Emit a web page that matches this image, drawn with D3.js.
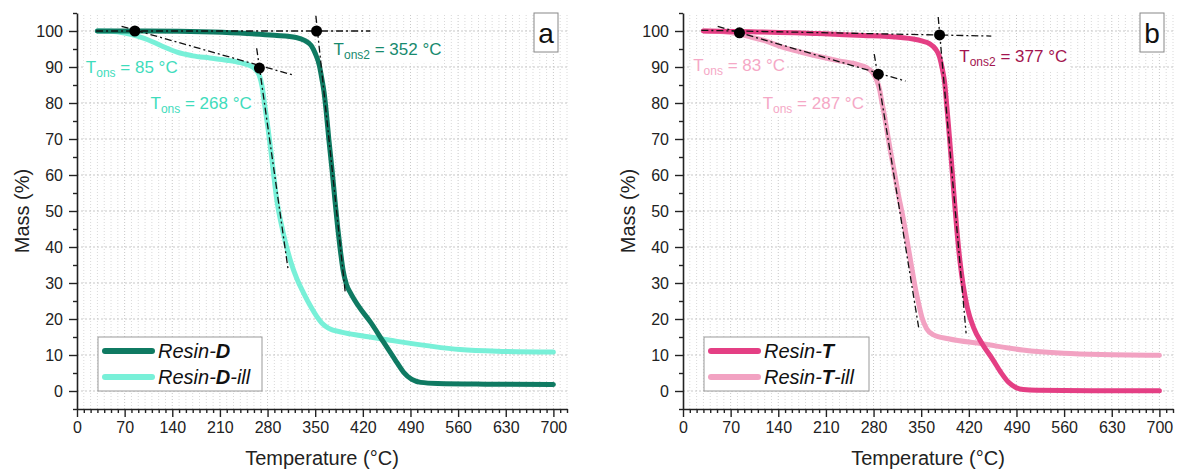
<!DOCTYPE html>
<html><head><meta charset="utf-8">
<script src="https://cdn.jsdelivr.net/npm/d3@7"></script>
<style>
body{margin:0;background:#fff}
svg{display:block}
text{font-family:"Liberation Sans",Arial,Helvetica,sans-serif}
</style>
</head><body>
<svg id="chart" width="1177" height="470"></svg>
<script>
// ---------------- DATA ----------------
const tempTicks = [0, 70, 140, 210, 280, 350, 420, 490, 560, 630, 700];
const massTicks = [0, 10, 20, 30, 40, 50, 60, 70, 80, 90, 100];
const tempMinor = d3.range(10, 721, 10).filter(v => v % 70 !== 0);
const massMinor = [-5, 5, 15, 25, 35, 45, 55, 65, 75, 85, 95, 105];

// [temperature °C, mass %]
const resinD = [[30,100],[100,100],[200,99.7],[250,99.3],[290,98.8],[322,98.2],[335,97.3],[344,96],[350,93.8],[356,90.5],[360,86.5],[363,83],[366,78],[370,70],[375,61],[379,53],[383,45.5],[387,39],[391,33.5],[396,29.5],[402,27.2],[415,23.2],[431,19.2],[450,13.7],[467,8.8],[480,5.2],[492,3.2],[505,2.4],[530,2.1],[600,1.9],[700,1.8]];
const resinDill = [[30,100],[50,99.9],[70,99.4],[90,98.5],[110,97.1],[130,95.4],[147,94.1],[170,93.1],[195,92.5],[220,91.9],[240,91.2],[255,90.3],[263,89.2],[268,87.6],[272,84.5],[275,80.5],[278,76.5],[281,72.5],[285,66.5],[289,60],[294,52.5],[300,46.5],[306,41.5],[314,36],[323,31.2],[333,27.2],[343,23.6],[352,20.8],[360,18.8],[370,17.4],[390,16.3],[416,15.4],[460,14.1],[514,12.6],[563,11.5],[630,11],[700,10.8]];
const resinT = [[30,100],[100,99.8],[200,99.3],[256,98.8],[320,98.2],[338,97.8],[352,97.2],[362,96.5],[371,95],[377,92.8],[381,89.5],[384.5,85.6],[387,80.5],[390,74],[393,67],[396,60],[399,52.5],[402.5,44.5],[407,36],[412,29],[418,23],[427,17.6],[440,13],[455,8.8],[467,5.2],[478,2.5],[489,1.0],[500,0.4],[520,0.2],[600,0.1],[700,0.1]];
const resinTill = [[30,100],[60,99.8],[81,99.2],[100,98.3],[120,97.3],[145,95.6],[174,94.1],[200,92.9],[229,91.7],[256,90.7],[270,89.8],[278,88.6],[284,86.6],[289,83.6],[292,80.5],[296,76.5],[300,72],[304,67.5],[309,62.4],[316,55],[324,47.5],[330,41],[336,34.4],[341,29],[346,24.5],[351,20.5],[358,17.3],[368,15.6],[390,14.5],[440,13.1],[499,11.4],[559,10.5],[630,10.1],[700,9.9]];

// onset points [temperature, mass]
const onsetA = [[85,100],[268,89.7],[352,100]];
const onsetB = [[83,99.5],[287,88],[377,98.9]];
// tangent construction lines [[t1,m1],[t2,m2]]
const tangentsA = [[[28,100],[431,100]], [[65.5,101.3],[317,87.8]], [[264,95.2],[310,34]], [[351,104.2],[394,27.6]]];
const tangentsB = [[[27,100.2],[453,98.6]], [[51,101.3],[327,86.1]], [[281,93.6],[347,16.8]], [[375,103.9],[416,16]]];
// onset labels: value, subscript, anchor [temperature, mass]
const labelValuesA = ["85", "268", "352"];
const labelSubsA = ["ons", "ons", "ons2"];
const labelAnchorsA = [[13,88.3],[108,78.4],[377,93.2]];
const labelValuesB = ["83", "287", "377"];
const labelSubsB = ["ons", "ons", "ons2"];
const labelAnchorsB = [[15,88.8],[117,78.4],[406,91.4]];

// ---------------- DRAW ----------------
const svg = d3.select("#chart");

function drawPanel(p) {
  const g = svg.append("g");
  const x = d3.scaleLinear().domain([0, 720]).range([p.left, p.left + 490]);
  const y = d3.scaleLinear().domain([-5, 105]).range([409, 13]);

  // grid
  const grid = g.append("g");
  grid.selectAll(".vmin").data(tempMinor).join("line")
    .attr("x1", d => x(d)).attr("x2", d => x(d)).attr("y1", y(-5)).attr("y2", y(105))
    .attr("stroke", "#d9d9d9").attr("stroke-width", 1).attr("stroke-dasharray", "1,2");
  grid.selectAll(".vmaj").data(tempTicks.filter(d => d > 0)).join("line")
    .attr("x1", d => x(d)).attr("x2", d => x(d)).attr("y1", y(-5)).attr("y2", y(105))
    .attr("stroke", "#c8c8c8").attr("stroke-width", 1).attr("stroke-dasharray", "1,2");
  grid.selectAll(".hmaj").data(massTicks).join("line")
    .attr("x1", x(0)).attr("x2", x(720)).attr("y1", d => y(d)).attr("y2", d => y(d))
    .attr("stroke", "#c8c8c8").attr("stroke-width", 1).attr("stroke-dasharray", "2,2");

  const line = d3.line().x(d => x(d[0])).y(d => y(d[1])).curve(d3.curveMonotoneX);
  // curves: ill first (drawn below)
  g.append("path").datum(p.ill).attr("d", line).attr("fill", "none")
    .attr("stroke", p.illColor).attr("stroke-width", 5).attr("stroke-linejoin", "round").attr("stroke-linecap", "round");
  g.append("path").datum(p.main).attr("d", line).attr("fill", "none")
    .attr("stroke", p.mainColor).attr("stroke-width", 5).attr("stroke-linejoin", "round").attr("stroke-linecap", "round");

  // tangents
  g.selectAll(".tan").data(p.tangents).join("line")
    .attr("x1", d => x(d[0][0])).attr("y1", d => y(d[0][1]))
    .attr("x2", d => x(d[1][0])).attr("y2", d => y(d[1][1]))
    .attr("stroke", "#111").attr("stroke-width", 1.3).attr("stroke-dasharray", "7,3,2,3");

  // onset dots
  g.selectAll(".dot").data(p.onset).join("circle")
    .attr("cx", d => x(d[0])).attr("cy", d => y(d[1])).attr("r", 5.5).attr("fill", "#000");

  // labels
  p.labelValues.forEach((v, i) => {
    const a = p.labelAnchors[i];
    const lg = g.append("g");
    const bg = lg.append("rect").attr("fill", "#fff");
    const t = lg.append("text").attr("x", x(a[0])).attr("y", y(a[1]))
      .attr("font-size", 17).attr("fill", p.labelColors[i]);
    t.append("tspan").text("T");
    t.append("tspan").attr("font-size", 12).attr("dy", 4).text(p.labelSubs[i]);
    t.append("tspan").attr("dy", -4).text(" = " + v + " °C");
    const bb = t.node().getBBox();
    bg.attr("x", bb.x - 2).attr("y", bb.y - 1).attr("width", bb.width + 4).attr("height", bb.height + 2);
  });

  // axes
  const ax = g.append("g").attr("transform", `translate(0,409)`)
    .call(d3.axisBottom(x).tickValues(tempTicks).tickSize(8).tickSizeOuter(0).tickPadding(5));
  g.append("g").attr("transform", `translate(0,409)`)
    .call(d3.axisBottom(x).tickValues(tempMinor).tickSize(4).tickFormat("").tickSizeOuter(0))
    .select(".domain").remove();
  const ay = g.append("g").attr("transform", `translate(${p.left},0)`)
    .call(d3.axisLeft(y).tickValues(massTicks).tickSize(8).tickSizeOuter(0).tickPadding(6));
  g.append("g").attr("transform", `translate(${p.left},0)`)
    .call(d3.axisLeft(y).tickValues(massMinor).tickSize(4).tickFormat("").tickSizeOuter(0))
    .select(".domain").remove();
  g.selectAll(".domain").attr("stroke", "#222").attr("stroke-width", 1.6);
  g.selectAll(".tick line").attr("stroke", "#222").attr("stroke-width", 1.4);
  g.selectAll(".tick text").attr("font-size", 16).attr("fill", "#222")
    .style("font-family", '"Liberation Sans", Arial, sans-serif');

  // axis titles
  g.append("text").attr("x", p.left + 245).attr("y", 465).attr("text-anchor", "middle")
    .attr("font-size", 20).attr("fill", "#222").text("Temperature (°C)");
  g.append("text").attr("transform", `translate(${p.left - 48},211) rotate(-90)`)
    .attr("text-anchor", "middle").attr("font-size", 20).attr("fill", "#222").text("Mass (%)");

  // legend
  const lx = p.left + 21, ly = 337;
  const lgd = g.append("g");
  lgd.append("rect").attr("x", lx).attr("y", ly).attr("width", p.legendW).attr("height", 54)
    .attr("fill", "#fff").attr("stroke", "#999").attr("stroke-width", 1);
  [[p.mainColor, ""], [p.illColor, "-ill"]].forEach((it, i) => {
    const cy = ly + 14 + i * 26;
    lgd.append("line").attr("x1", lx + 7).attr("x2", lx + 54).attr("y1", cy).attr("y2", cy)
      .attr("stroke", it[0]).attr("stroke-width", 6).attr("stroke-linecap", "round");
    const t = lgd.append("text").attr("x", lx + 60).attr("y", cy + 7).attr("font-size", 20)
      .attr("font-style", "italic").attr("fill", "#111");
    t.append("tspan").text("Resin-");
    t.append("tspan").attr("font-weight", "bold").text(p.letter);
    if (it[1]) t.append("tspan").text(it[1]);
  });

  // panel letter
  const bx = p.left + 457;
  g.append("rect").attr("x", bx).attr("y", 13).attr("width", 24).attr("height", 39)
    .attr("fill", "#fff").attr("stroke", "#888").attr("stroke-width", 1);
  g.append("text").attr("x", bx + 12).attr("y", 43).attr("text-anchor", "middle")
    .attr("font-size", 28).attr("fill", "#111").text(p.panel);
}

drawPanel({
  left: 77, panel: "a", letter: "D", legendW: 164,
  main: resinD, ill: resinDill,
  mainColor: "#0f7a62", illColor: "#78f0d8",
  onset: onsetA, tangents: tangentsA,
  labelValues: labelValuesA, labelSubs: labelSubsA, labelAnchors: labelAnchorsA,
  labelColors: ["#3fdcbc", "#3fdcbc", "#178a6e"]
});
drawPanel({
  left: 683, panel: "b", letter: "T", legendW: 165,
  main: resinT, ill: resinTill,
  mainColor: "#e43f84", illColor: "#f2a2c2",
  onset: onsetB, tangents: tangentsB,
  labelValues: labelValuesB, labelSubs: labelSubsB, labelAnchors: labelAnchorsB,
  labelColors: ["#f5a8c6", "#f5a8c6", "#a3154f"]
});
</script>
</body></html>
